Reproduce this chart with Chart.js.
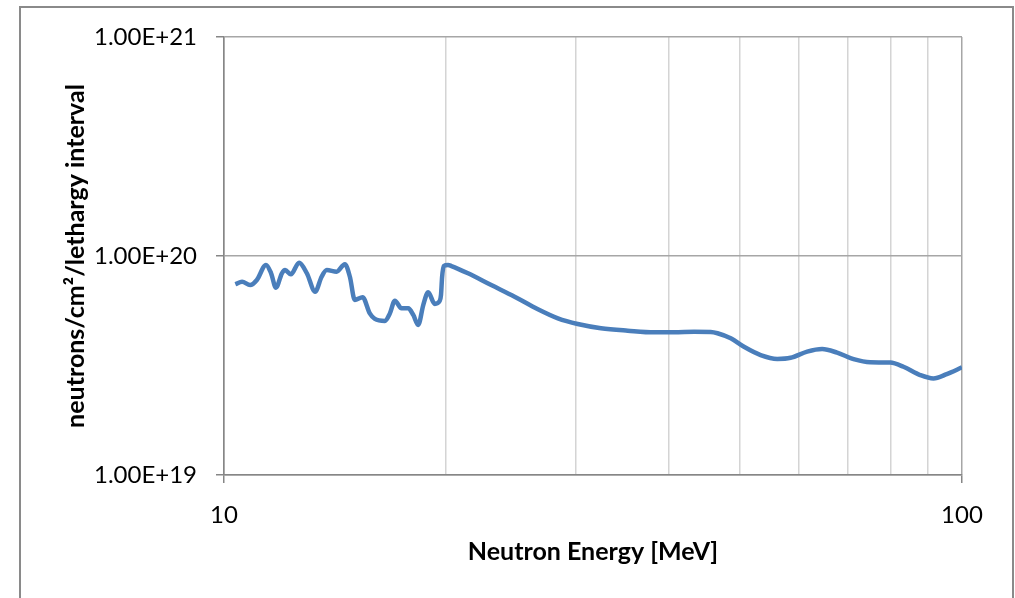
<!DOCTYPE html>
<html>
<head>
<meta charset="utf-8">
<title>Neutron spectrum</title>
<script src="https://cdn.jsdelivr.net/npm/chart.js@4.4.1/dist/chart.umd.min.js"></script>
<style>
  html, body { margin: 0; padding: 0; background: #fff; overflow: hidden; }
  #wrap { position: relative; width: 1015px; height: 598px; }
  #frame {
    position: absolute; left: 19px; top: 6px; width: 995px; height: 620px;
    border: 2px solid #8a8a8a; box-sizing: border-box;
  }
  canvas { position: absolute; left: 0; top: 0; }
</style>
</head>
<body>
<div id="wrap">
  <div id="frame"></div>
  <canvas id="fluxChart" width="1015" height="598"></canvas>
</div>
<script>
// Neutron energy (MeV) and flux per lethargy interval
const energies = [
  10.36, 10.58, 10.85, 11.08, 11.40, 11.58, 11.76, 11.98, 12.10, 12.32,
  12.64, 12.95, 13.29, 13.56, 13.78, 14.21, 14.58, 14.81, 15.04, 15.41,
  15.76, 16.01, 16.52, 16.78, 17.04, 17.40, 17.77, 18.05, 18.33, 18.62,
  18.91, 19.30, 19.60, 19.68, 19.75, 19.85, 20.12, 20.33, 21.41, 23.02,
  24.76, 26.63, 28.34, 30.15, 32.42, 35.24, 38.27, 40.72, 43.35, 45.66,
  46.63, 48.60, 50.65, 53.35, 56.19, 58.57, 61.69, 64.64, 67.72, 71.31,
  75.11, 79.93, 83.31, 87.75, 91.47, 95.35, 100
];
const flux = [
  7.43e19, 7.63e19, 7.37e19, 7.77e19, 9.10e19, 8.36e19, 7.17e19, 8.34e19, 8.63e19, 8.25e19,
  9.32e19, 8.34e19, 6.87e19, 8.04e19, 8.63e19, 8.48e19, 9.17e19, 8.04e19, 6.30e19, 6.48e19,
  5.47e19, 5.16e19, 5.05e19, 5.47e19, 6.25e19, 5.77e19, 5.77e19, 5.38e19, 4.84e19, 5.97e19,
  6.83e19, 6.04e19, 6.23e19, 6.64e19, 8.04e19, 9.00e19, 9.10e19, 9.00e19, 8.34e19, 7.37e19,
  6.52e19, 5.71e19, 5.19e19, 4.89e19, 4.68e19, 4.56e19, 4.48e19, 4.48e19, 4.51e19, 4.50e19,
  4.44e19, 4.21e19, 3.85e19, 3.53e19, 3.39e19, 3.43e19, 3.66e19, 3.76e19, 3.62e19, 3.38e19,
  3.27e19, 3.26e19, 3.12e19, 2.86e19, 2.76e19, 2.89e19, 3.10e19
];
const xTicks = [10, 20, 30, 40, 50, 60, 70, 80, 90, 100];
const xLabels = [10, 100];
const yTicks = [1e19, 1e20, 1e21];

const fontFamily = 'Lato, "Open Sans", sans-serif';

const points = energies.map((e, i) => ({ x: e, y: flux[i] }));

const ctx = document.getElementById('fluxChart').getContext('2d');
const fluxChart = new Chart(ctx, {
  type: 'line',
  data: {
    datasets: [{
      data: points,
      borderColor: '#4a7ebb',
      borderWidth: 4.5,
      pointRadius: 0,
      fill: false,
      cubicInterpolationMode: 'monotone'
    }]
  },
  options: {
    responsive: false,
    animation: false,
    devicePixelRatio: 1,
    layout: { padding: { top: 37, right: 53, left: 0, bottom: 0 } },
    plugins: {
      legend: { display: false },
      tooltip: { enabled: false }
    },
    scales: {
      x: {
        type: 'logarithmic',
        min: 10,
        max: 100,
        afterBuildTicks: scale => { scale.ticks = xTicks.map(v => ({ value: v })); },
        afterFit: scale => { scale.height = 123; },
        ticks: {
          autoSkip: false,
          maxRotation: 0,
          padding: 18,
          color: '#000',
          font: { family: fontFamily, size: 24 },
          callback: v => xLabels.includes(v) ? String(v) : ''
        },
        grid: {
          color: c => (c.tick && (c.tick.value === 10 || c.tick.value === 100)) ? '#a6a6a6' : '#d4d4d4',
          tickColor: c => (c.tick && xLabels.includes(c.tick.value)) ? '#868686' : 'rgba(0,0,0,0)',
          tickLength: 8,
          lineWidth: 1.5
        },
        border: { color: '#868686', width: 1.5 },
        title: {
          display: true,
          text: 'Neutron Energy [MeV]',
          color: '#000',
          font: { family: fontFamily, size: 25, weight: 'bold' },
          padding: { top: 0, bottom: 31 }
        }
      },
      y: {
        type: 'logarithmic',
        min: 1e19,
        max: 1e21,
        afterBuildTicks: scale => { scale.ticks = yTicks.map(v => ({ value: v })); },
        afterFit: scale => { scale.width = 224; },
        ticks: {
          autoSkip: false,
          padding: 19,
          color: '#000',
          font: { family: fontFamily, size: 24 },
          callback: v => Number(v).toExponential(2).toUpperCase()
        },
        grid: {
          color: '#a6a6a6',
          tickColor: '#868686',
          tickLength: 8,
          lineWidth: 1.5
        },
        border: { color: '#868686', width: 1.5 },
        title: {
          display: true,
          text: 'neutrons/cm\u00b2/lethargy interval',
          color: '#000',
          font: { family: fontFamily, size: 25, weight: 'bold' },
          padding: { top: 61, bottom: 0 }
        }
      }
    }
  }
});
</script>
</body>
</html>
